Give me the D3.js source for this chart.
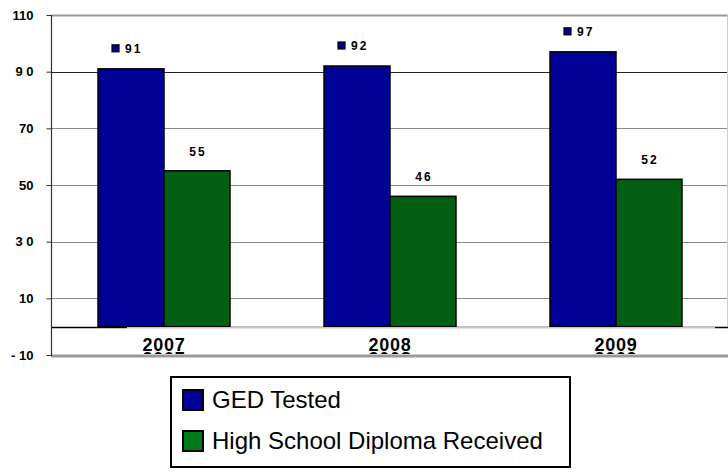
<!DOCTYPE html>
<html><head><meta charset="utf-8">
<script src="https://cdn.jsdelivr.net/npm/d3@7"></script>
<style>body{margin:0;background:#fff}svg{display:block}</style>
</head><body>
<script>
const categories = ["2007", "2008", "2009"];
const seriesNames = ["GED Tested", "High School Diploma Received"];
const gedTested = [91, 92, 97];
const diplomaReceived = [55, 46, 52];
const tickValues = [-10, 10, 30, 50, 70, 90, 110];
const tickLabels = ["- 10", "10", "3 0", "50", "70", "9 0", "110"];

(function () {
const W = 728, H = 476;
const svg = d3.select("body").append("svg").attr("width", W).attr("height", H);
const pL = 51, pR = 728, pT = 15, pB = 355;
const barColors = ["#000094", "#005f12"];
const legendColors = ["#000099", "#007a18"];

const x = d3.scaleBand().domain(categories).range([pL, 729]).paddingInner(0.416).paddingOuter(0.208);
const xs = d3.scaleBand().domain(seriesNames).range([0, x.bandwidth()]);
const y = d3.scaleLinear().domain([-10, 110]).range([pB, pT]);

// gridlines
svg.append("g").selectAll("line").data(tickValues.filter(v => v > -10 && v < 110)).join("line")
  .attr("x1", pL).attr("x2", pR).attr("y1", d => Math.round(y(d)) + 0.5).attr("y2", d => Math.round(y(d)) + 0.5)
  .attr("stroke", d => d === 90 ? "#222" : "#8a8a8a").attr("stroke-width", 1);
// top border
svg.append("line").attr("x1", pL).attr("x2", pR).attr("y1", y(110)+0.5).attr("y2", y(110)+0.5).attr("stroke", "#999").attr("stroke-width", 2);
// right border
svg.append("line").attr("x1", 727.5).attr("x2", 727.5).attr("y1", y(110)).attr("y2", y(0)).attr("stroke", "#ccc").attr("stroke-width", 1);

// bars
const data = categories.map((c, i) => ({ c, vals: [gedTested[i], diplomaReceived[i]] }));
const groups = svg.append("g").selectAll("g").data(data).join("g").attr("transform", d => `translate(${x(d.c)},0)`);
groups.selectAll("rect").data(d => d.vals.map((v, k) => ({ v, k }))).join("rect")
  .attr("x", d => xs(seriesNames[d.k]))
  .attr("width", xs.bandwidth())
  .attr("y", d => y(d.v))
  .attr("height", d => y(0) - y(d.v))
  .attr("fill", d => barColors[d.k])
  .attr("stroke", "#000").attr("stroke-width", 1.5);

// zero line and category band
const y0 = Math.round(y(0));
svg.append("line").attr("x1", pL).attr("x2", pR).attr("y1", y0 + 0.5).attr("y2", y0 + 0.5).attr("stroke", "#000").attr("stroke-width", 1.5);
svg.append("rect").attr("x", 127).attr("y", y0 + 1.5).attr("width", 715 - 127).attr("height", pB - y0 - 1.5).attr("fill", "#fff");
svg.append("line").attr("x1", 127).attr("x2", 715).attr("y1", y0 + 0.5).attr("y2", y0 + 0.5).attr("stroke", "#c8c8c8").attr("stroke-width", 1);

// category labels (with clipped ghost copy peeking above the bottom line)
svg.append("clipPath").attr("id", "clipcat").append("rect").attr("x", 0).attr("y", 0).attr("width", W).attr("height", 354);
const catG = svg.append("g").attr("font-family", "'Liberation Sans Narrow', 'Arial Narrow', Arial, sans-serif")
  .attr("font-weight", "bold").attr("font-size", 18).attr("letter-spacing", 0.8).attr("text-anchor", "middle");
catG.selectAll("text.main").data(categories).join("text").attr("class", "main")
  .attr("x", d => x(d) + x.bandwidth() / 2).attr("y", 351).text(d => d);
catG.append("g").attr("clip-path", "url(#clipcat)").selectAll("text").data(categories).join("text")
  .attr("x", d => x(d) + x.bandwidth() / 2).attr("y", 365).text(d => d);

// bottom line
svg.append("line").attr("x1", pL).attr("x2", pR).attr("y1", pB + 1).attr("y2", pB + 1).attr("stroke", "#999").attr("stroke-width", 3);

// y axis
svg.append("line").attr("x1", pL + 0.5).attr("x2", pL + 0.5).attr("y1", pT).attr("y2", pB + 1).attr("stroke", "#333").attr("stroke-width", 1.2);
const yAxis = d3.axisLeft(y).tickValues(tickValues).tickSize(5).tickPadding(13).tickFormat((d, i) => tickLabels[i]);
const ag = svg.append("g").attr("transform", `translate(${pL + 0.5},0)`).call(yAxis);
ag.select(".domain").remove();
ag.selectAll(".tick line").attr("stroke", "#333");
ag.selectAll(".tick text").attr("font-family", "Arial, 'Liberation Sans', sans-serif").attr("font-weight", "bold").attr("font-size", 13).attr("fill", "#000");

// value labels
const lab = svg.append("g").attr("font-family", "Arial, 'Liberation Sans', sans-serif").attr("font-weight", "bold").attr("font-size", 12).attr("letter-spacing", 2).attr("fill", "#000");
data.forEach(d => {
  const cx0 = x(d.c) + xs(seriesNames[0]) + xs.bandwidth() / 2;
  const cx1 = x(d.c) + xs(seriesNames[1]) + xs.bandwidth() / 2;
  const by0 = y(d.vals[0]);
  lab.append("rect").attr("x", cx0 - 19).attr("y", by0 - 24).attr("width", 7).attr("height", 7)
    .attr("fill", legendColors[0]).attr("stroke", "#000").attr("stroke-width", 1.2);
  lab.append("text").attr("x", cx0 - 6).attr("y", by0 - 16).text(d.vals[0]);
  lab.append("text").attr("x", cx1 + 1).attr("y", y(d.vals[1]) - 15).attr("text-anchor", "middle").text(d.vals[1]);
});

// legend
const lg = svg.append("g");
lg.append("rect").attr("x", 171).attr("y", 377).attr("width", 399).attr("height", 90).attr("fill", "#fff").attr("stroke", "#000").attr("stroke-width", 2);
seriesNames.forEach((s, i) => {
  const yy = 390 + i * 41;
  lg.append("rect").attr("x", 183).attr("y", yy).attr("width", 20).attr("height", 20)
    .attr("fill", legendColors[i]).attr("stroke", "#000").attr("stroke-width", 2);
  lg.append("text").attr("x", 212).attr("y", yy + 18).attr("font-family", "Arial, 'Liberation Sans', sans-serif")
    .attr("font-size", 24).attr("fill", "#000").text(s);
});
})();
</script>
</body></html>
